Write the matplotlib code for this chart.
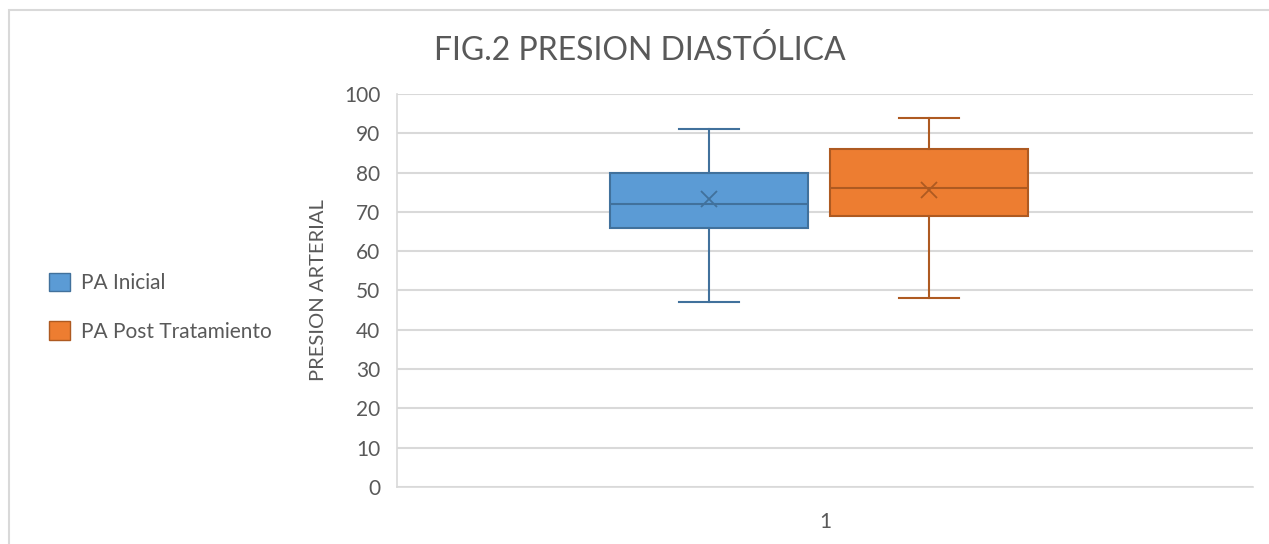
import matplotlib.pyplot as plt
from matplotlib.patches import Patch, Rectangle

# valores (presión diastólica)
series = ['PA Inicial', 'PA Post Tratamiento']
whislo = [47, 48]
q1 = [66, 69]
med = [72, 76]
q3 = [80, 86]
whishi = [91, 94]
mean = [73.2, 75.6]
categorias = ['1']

fills = ['#5B9BD5', '#ED7D31']
edges = ['#41719C', '#AE5A21']

plt.rcParams['font.family'] = ['Lato', 'DejaVu Sans']

fig = plt.figure(figsize=(12.69, 5.44), dpi=100)
# borde del área del gráfico (solo arriba e izquierda visibles)
fig.patches.append(Rectangle((0.0067, -0.02), 1.1, 1.0015, transform=fig.transFigure,
                             fill=False, edgecolor='#d9d9d9', linewidth=1.5))
ax = fig.add_axes([0.3128, 0.1048, 0.6746, 0.7224])

posiciones = [0.729, 1.243]
for i in range(len(series)):
    st = [dict(whislo=whislo[i], q1=q1[i], med=med[i], q3=q3[i],
               whishi=whishi[i], mean=mean[i], fliers=[], label=series[i])]
    ax.bxp(st, positions=[posiciones[i]], widths=0.463, capwidths=0.14,
           showmeans=True, patch_artist=True,
           boxprops=dict(facecolor=fills[i], edgecolor=edges[i], linewidth=1.5),
           medianprops=dict(color=edges[i], linewidth=1.5),
           whiskerprops=dict(color=edges[i], linewidth=1.5),
           capprops=dict(color=edges[i], linewidth=1.5),
           meanprops=dict(marker='x', markeredgecolor=edges[i], markersize=11,
                          markeredgewidth=1.3),
           zorder=3)

ax.set_xlim(0, 2)
ax.set_ylim(0, 100)
ax.set_yticks(range(0, 101, 10))
ax.set_xticks([1])
ax.set_xticklabels(categorias)
ax.grid(axis='y', color='#d9d9d9', linewidth=1.5, zorder=0)
ax.set_axisbelow(True)
for s in ['top', 'right']:
    ax.spines[s].set_visible(False)
ax.spines['left'].set_color('#d9d9d9')
ax.spines['bottom'].set_color('#d9d9d9')
ax.spines['left'].set_linewidth(1.2)
ax.spines['bottom'].set_linewidth(1.2)
ax.tick_params(axis='both', length=0, labelsize=15, colors='#595959', pad=12)
ax.tick_params(axis='x', pad=18)
ax.set_ylabel('PRESION ARTERIAL', fontsize=14.5, color='#595959', labelpad=12)

fig.text(0.504, 0.908, 'FIG.2 PRESION DIASTÓLICA', fontsize=23, color='#595959',
         ha='center', va='center')

handles = [Patch(facecolor=fills[i], edgecolor=edges[i], linewidth=1) for i in range(2)]
fig.legend(handles, series, loc='center left', bbox_to_anchor=(0.024, 0.435),
           frameon=False, fontsize=15, labelcolor='#595959', handlelength=1.0,
           handleheight=1.0, labelspacing=1.35, handletextpad=0.55)

fig.savefig('out.png', dpi=100)
